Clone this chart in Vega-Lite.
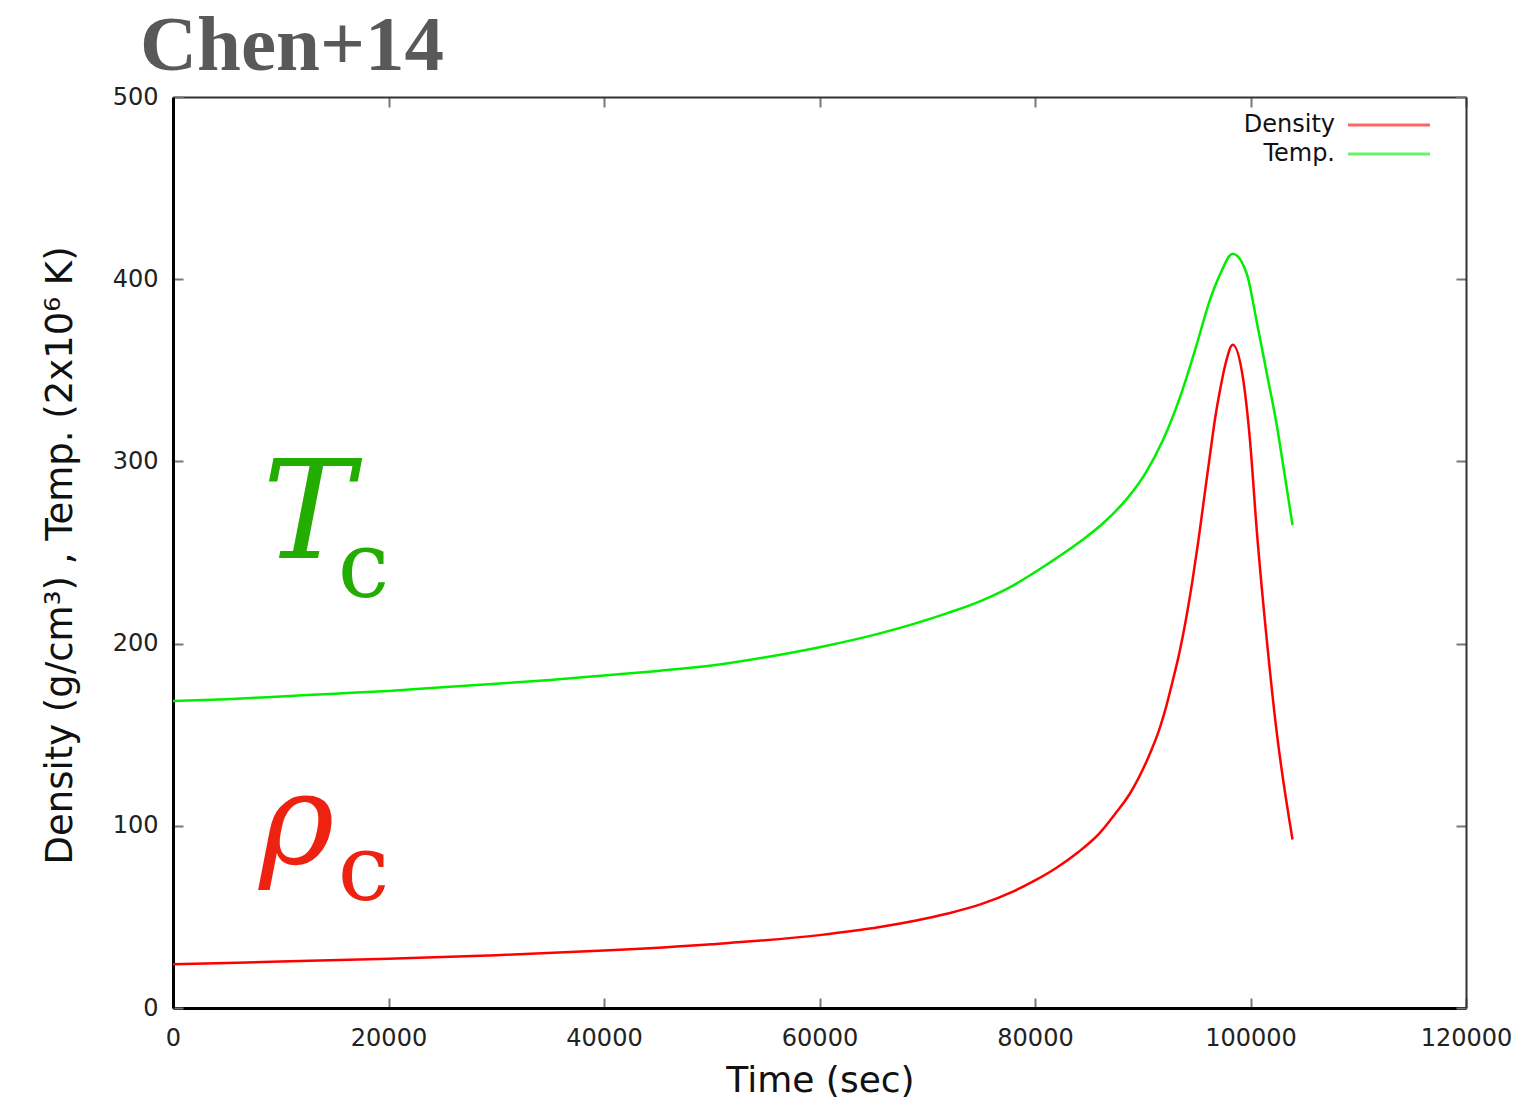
{
  "$schema": "https://vega.github.io/schema/vega-lite/v6.json",
  "width": 1293,
  "height": 911,
  "autosize": {"type": "none"},
  "padding": {"left": 173, "top": 97, "right": 56, "bottom": 98},
  "background": "white",
  "title": {"text": "Chen+14", "font": "Liberation Serif", "fontSize": 79, "fontWeight": "bold", "color": "#595959", "anchor": "start", "frame": "group", "dx": -33, "dy": 88, "offset": 24, "baseline": "alphabetic"},
  "config": {"view": {"stroke": null}},
  "datasets": {
    "curves": [
      {"t": 0, "v": 168.5, "s": "Temp."},
      {"t": 5000, "v": 169.5, "s": "Temp."},
      {"t": 10000, "v": 171, "s": "Temp."},
      {"t": 15000, "v": 172.5, "s": "Temp."},
      {"t": 20000, "v": 174, "s": "Temp."},
      {"t": 25000, "v": 176, "s": "Temp."},
      {"t": 30000, "v": 178, "s": "Temp."},
      {"t": 35000, "v": 180, "s": "Temp."},
      {"t": 40000, "v": 182.5, "s": "Temp."},
      {"t": 45000, "v": 185, "s": "Temp."},
      {"t": 50000, "v": 188, "s": "Temp."},
      {"t": 55000, "v": 192.5, "s": "Temp."},
      {"t": 60000, "v": 198, "s": "Temp."},
      {"t": 65600, "v": 205.6, "s": "Temp."},
      {"t": 71800, "v": 216.6, "s": "Temp."},
      {"t": 75000, "v": 223.5, "s": "Temp."},
      {"t": 78000, "v": 232, "s": "Temp."},
      {"t": 81000, "v": 243, "s": "Temp."},
      {"t": 84200, "v": 256, "s": "Temp."},
      {"t": 86500, "v": 267, "s": "Temp."},
      {"t": 88600, "v": 280, "s": "Temp."},
      {"t": 90300, "v": 294, "s": "Temp."},
      {"t": 91900, "v": 312, "s": "Temp."},
      {"t": 93500, "v": 336, "s": "Temp."},
      {"t": 95000, "v": 364, "s": "Temp."},
      {"t": 96200, "v": 388, "s": "Temp."},
      {"t": 97200, "v": 403, "s": "Temp."},
      {"t": 98350, "v": 414, "s": "Temp."},
      {"t": 99650, "v": 403, "s": "Temp."},
      {"t": 100600, "v": 376, "s": "Temp."},
      {"t": 101500, "v": 348.6, "s": "Temp."},
      {"t": 102400, "v": 321.2, "s": "Temp."},
      {"t": 103050, "v": 297.2, "s": "Temp."},
      {"t": 103900, "v": 265, "s": "Temp."},
      {"t": 0, "v": 24, "s": "Density"},
      {"t": 10000, "v": 25.5, "s": "Density"},
      {"t": 20000, "v": 27, "s": "Density"},
      {"t": 30000, "v": 29, "s": "Density"},
      {"t": 40000, "v": 31.5, "s": "Density"},
      {"t": 50000, "v": 35, "s": "Density"},
      {"t": 60000, "v": 40, "s": "Density"},
      {"t": 65600, "v": 44.4, "s": "Density"},
      {"t": 71800, "v": 51.7, "s": "Density"},
      {"t": 75000, "v": 57, "s": "Density"},
      {"t": 78000, "v": 64, "s": "Density"},
      {"t": 80000, "v": 70, "s": "Density"},
      {"t": 82000, "v": 77, "s": "Density"},
      {"t": 84000, "v": 85.5, "s": "Density"},
      {"t": 86000, "v": 96, "s": "Density"},
      {"t": 87500, "v": 107, "s": "Density"},
      {"t": 88800, "v": 117.6, "s": "Density"},
      {"t": 90400, "v": 136, "s": "Density"},
      {"t": 91600, "v": 154, "s": "Density"},
      {"t": 92200, "v": 166, "s": "Density"},
      {"t": 92800, "v": 180, "s": "Density"},
      {"t": 93400, "v": 195, "s": "Density"},
      {"t": 94000, "v": 213, "s": "Density"},
      {"t": 94600, "v": 234, "s": "Density"},
      {"t": 95150, "v": 256, "s": "Density"},
      {"t": 95700, "v": 280, "s": "Density"},
      {"t": 96250, "v": 304, "s": "Density"},
      {"t": 96700, "v": 323, "s": "Density"},
      {"t": 97170, "v": 339, "s": "Density"},
      {"t": 97700, "v": 354, "s": "Density"},
      {"t": 98350, "v": 364, "s": "Density"},
      {"t": 99330, "v": 344.6, "s": "Density"},
      {"t": 99950, "v": 311.7, "s": "Density"},
      {"t": 100580, "v": 262.3, "s": "Density"},
      {"t": 101500, "v": 202.7, "s": "Density"},
      {"t": 102430, "v": 151.5, "s": "Density"},
      {"t": 103900, "v": 92.5, "s": "Density"}
    ]
  },
  "layer": [
    {
      "data": {"name": "curves"},
      "mark": {"type": "point", "opacity": 0},
      "encoding": {
        "x": {"field": "t", "type": "quantitative", "scale": {"domain": [0, 120000], "nice": false},
          "axis": {"orient": "top", "labels": false, "title": null, "grid": false, "values": [0, 20000, 40000, 60000, 80000, 100000, 120000], "domainColor": "#333333", "domainWidth": 2, "tickSize": -10, "tickColor": "#777777", "tickWidth": 2}},
        "y": {"field": "v", "type": "quantitative", "scale": {"domain": [0, 500], "nice": false},
          "axis": {"orient": "right", "labels": false, "title": null, "grid": false, "values": [0, 100, 200, 300, 400, 500], "domainColor": "#333333", "domainWidth": 2, "tickSize": -10, "tickColor": "#777777", "tickWidth": 2}}
      }
    },
    {
      "data": {"name": "curves"},
      "mark": {"type": "line", "strokeWidth": 2.5, "interpolate": "monotone"},
      "encoding": {
        "x": {"field": "t", "type": "quantitative", "scale": {"domain": [0, 120000], "nice": false},
          "axis": {"orient": "bottom", "grid": false, "values": [0, 20000, 40000, 60000, 80000, 100000, 120000], "format": "d",
            "domainColor": "#000000", "domainWidth": 3, "tickSize": -10, "tickColor": "#777777", "tickWidth": 2,
            "labelFont": "DejaVu Sans", "labelFontSize": 24, "labelColor": "#222222", "labelPadding": 28, "labelFlush": false,
            "title": "Time (sec)", "titleFont": "DejaVu Sans", "titleFontSize": 36, "titleFontWeight": "normal", "titleColor": "#111111",
            "titleX": 647, "titleY": 72, "titleBaseline": "middle", "titleAlign": "center"}},
        "y": {"field": "v", "type": "quantitative", "scale": {"domain": [0, 500], "nice": false},
          "axis": {"orient": "left", "grid": false, "values": [0, 100, 200, 300, 400, 500],
            "domainColor": "#000000", "domainWidth": 3, "tickSize": -10, "tickColor": "#777777", "tickWidth": 2,
            "labelFont": "DejaVu Sans", "labelFontSize": 24, "labelColor": "#222222", "labelPadding": 25, "labelFlush": false,
            "title": "Density (g/cm³) , Temp. (2x10⁶ K)", "titleFont": "DejaVu Sans", "titleFontSize": 37, "titleFontWeight": "normal", "titleColor": "#111111",
            "titleX": -113, "titleY": 458, "titleBaseline": "middle", "titleAlign": "center", "titleAngle": -90}},
        "color": {"field": "s", "type": "nominal", "scale": {"domain": ["Density", "Temp."], "range": ["#ff0000", "#00ee00"]},
          "legend": {"orient": "none", "legendX": 1204, "legendY": 16, "title": null, "symbolType": "M-4,0H4", "symbolSize": 420, "symbolStrokeWidth": 3, "symbolOpacity": 0.6, "symbolFillColor": "transparent",
            "labelAlign": "right", "labelOffset": -66, "labelFont": "DejaVu Sans", "labelFontSize": 24, "labelColor": "#111111", "rowPadding": 5, "padding": 0}}
      }
    },
    {
      "data": {"values": [{}]},
      "mark": {"type": "text", "text": "T", "font": "DejaVu Serif", "fontStyle": "italic", "fontWeight": "normal", "fontSize": 137, "color": "#22ad00", "align": "left", "baseline": "alphabetic"},
      "encoding": {"x": {"datum": 8300, "type": "quantitative", "axis": null}, "y": {"datum": 247, "type": "quantitative", "axis": null}}
    },
    {
      "data": {"values": [{}]},
      "mark": {"type": "text", "text": "c", "font": "DejaVu Serif", "fontWeight": "normal", "fontSize": 92, "color": "#22ad00", "align": "left", "baseline": "alphabetic"},
      "encoding": {"x": {"datum": 15300, "type": "quantitative", "axis": null}, "y": {"datum": 225.5, "type": "quantitative", "axis": null}}
    },
    {
      "data": {"values": [{}]},
      "mark": {"type": "text", "text": "ρ", "font": "DejaVu Serif", "fontStyle": "italic", "fontWeight": "normal", "fontSize": 128, "color": "#ee2211", "align": "left", "baseline": "alphabetic"},
      "encoding": {"x": {"datum": 8000, "type": "quantitative", "axis": null}, "y": {"datum": 79.5, "type": "quantitative", "axis": null}}
    },
    {
      "data": {"values": [{}]},
      "mark": {"type": "text", "text": "c", "font": "DejaVu Serif", "fontWeight": "normal", "fontSize": 92, "color": "#ee2211", "align": "left", "baseline": "alphabetic"},
      "encoding": {"x": {"datum": 15300, "type": "quantitative", "axis": null}, "y": {"datum": 59.3, "type": "quantitative", "axis": null}}
    }
  ],
  "resolve": {"axis": {"x": "independent", "y": "independent"}}
}
